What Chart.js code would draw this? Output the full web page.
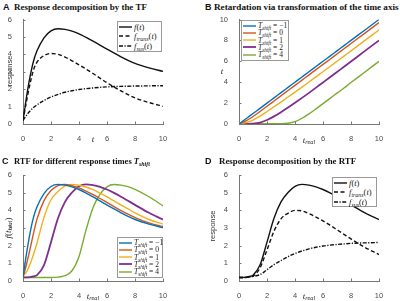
<!DOCTYPE html>
<html>
<head>
<meta charset="utf-8">
<script src="https://cdn.jsdelivr.net/npm/chart.js@4"></script>
<style>
body { margin: 0; width: 400px; height: 301px; position: relative; background: #fff; overflow: hidden; font-family: "Liberation Sans", sans-serif; }
canvas { position: absolute; }
.t { position: absolute; white-space: nowrap; line-height: 1; }
.ttl { font: bold 9.5px "Liberation Serif", serif; color: #111; }
.let { font: bold 9px "Liberation Sans", sans-serif; color: #111; }
.m { font-family: "Liberation Serif", serif; font-style: italic; color: #222; font-size: 9px; }
.ax { font-size: 7.5px; color: #333; }
.leg { position: absolute; background: #fff; border: 1px solid #999; box-sizing: border-box; }
.row { position: absolute; left: 1px; height: 8px; display: flex; align-items: center; font-family: "Liberation Serif", serif; font-style: italic; white-space: nowrap; color: #222; }
.row svg { margin-right: 2px; flex: none; }
.big .row { font-size: 8.5px; }
.small .row { font-size: 7.5px; }
sub { font-size: 70%; vertical-align: -0.3em; line-height: 0; }
.up { font-style: normal; }
</style>
</head>
<body>
<canvas id="cA"></canvas>
<canvas id="cB"></canvas>
<canvas id="cC"></canvas>
<canvas id="cD"></canvas>
<script>
// A: decomposition by the TF
var tA = [0, 0.25, 0.5, 0.75, 1, 1.5, 2, 2.5, 3, 3.5, 4, 5, 6, 7, 8, 9, 10];
var fA = [0.2, 1.55, 2.7, 3.6, 4.2, 4.95, 5.35, 5.47, 5.43, 5.33, 5.18, 4.76, 4.3, 3.86, 3.48, 3.22, 3.02];
var transA = [0.2, 1.3, 2.3, 3.1, 3.55, 3.93, 4.05, 4.0, 3.84, 3.63, 3.4, 2.9, 2.37, 1.9, 1.5, 1.23, 1.02];
var susA = [0.2, 0.5, 0.75, 0.95, 1.1, 1.35, 1.55, 1.7, 1.82, 1.91, 1.98, 2.07, 2.13, 2.16, 2.18, 2.19, 2.2];

// shared real-time grid for B, C, D
var tReal = [0, 0.25, 0.5, 0.75, 1, 1.5, 2, 2.5, 3, 3.5, 4, 4.5, 5, 5.5, 6, 6.5, 7, 7.5, 8, 9, 10];
var shifts = ['\u22121', '0', '1', '2', '4'];
var colors = ['#0072BD', '#D95319', '#EDB120', '#7E2F8E', '#77AC30'];

// B: t as a function of t_real
var tShiftM1 = [0, 0.25, 0.5, 0.75, 1, 1.5, 2, 2.5, 3, 3.5, 4, 4.5, 5, 5.5, 6, 6.5, 7, 7.5, 8, 9, 10];
var tShift0 = [0, 0.14, 0.3, 0.5, 0.72, 1.2, 1.7, 2.2, 2.7, 3.2, 3.7, 4.2, 4.7, 5.2, 5.7, 6.2, 6.7, 7.2, 7.7, 8.7, 9.7];
var tShift1 = [0.02, 0.06, 0.14, 0.24, 0.38, 0.75, 1.2, 1.65, 2.1, 2.58, 3.05, 3.53, 4.02, 4.51, 5.0, 5.5, 6.0, 6.5, 7.0, 8.0, 9.0];
var tShift2 = [0.01, 0.01, 0.01, 0.02, 0.03, 0.13, 0.38, 0.73, 1.13, 1.57, 2.03, 2.5, 2.98, 3.48, 3.98, 4.48, 4.98, 5.48, 5.98, 7.0, 8.0];
var tShift4 = [0.01, 0.01, 0.01, 0.01, 0.01, 0.02, 0.02, 0.03, 0.03, 0.07, 0.22, 0.55, 0.97, 1.45, 1.95, 2.45, 2.95, 3.45, 3.97, 4.98, 6.0];

// C: RTF for each shift
var rtfM1 = [0.2, 1.55, 2.7, 3.6, 4.2, 4.95, 5.35, 5.47, 5.43, 5.33, 5.18, 4.98, 4.76, 4.53, 4.3, 4.08, 3.86, 3.66, 3.48, 3.22, 3.02];
var rtf0 = [0.2, 0.95, 1.8, 2.7, 3.5, 4.55, 5.12, 5.4, 5.46, 5.39, 5.27, 5.09, 4.89, 4.67, 4.44, 4.21, 3.99, 3.78, 3.59, 3.29, 3.08];
var rtf1 = [0.3, 0.52, 0.95, 1.5, 2.15, 3.6, 4.6, 5.07, 5.38, 5.47, 5.42, 5.32, 5.17, 4.97, 4.76, 4.53, 4.3, 4.08, 3.86, 3.48, 3.22];
var rtf2 = [0.2, 0.2, 0.22, 0.26, 0.33, 0.9, 2.2, 3.55, 4.48, 5.01, 5.36, 5.47, 5.43, 5.33, 5.18, 4.99, 4.77, 4.54, 4.31, 3.86, 3.48];
var rtf4 = [0.2, 0.2, 0.2, 0.2, 0.2, 0.2, 0.2, 0.22, 0.3, 0.58, 1.39, 2.88, 4.15, 4.9, 5.33, 5.46, 5.43, 5.34, 5.19, 4.77, 4.25];

// D: decomposition by the RTF
var fD = rtf2;
var transD = [0.2, 0.2, 0.2, 0.22, 0.27, 0.74, 1.76, 2.82, 3.52, 3.83, 4.0, 3.97, 3.81, 3.62, 3.4, 3.16, 2.9, 2.64, 2.38, 1.9, 1.5];
var susD = [0.2, 0.2, 0.2, 0.24, 0.26, 0.36, 0.64, 0.93, 1.16, 1.38, 1.56, 1.7, 1.82, 1.91, 1.98, 2.03, 2.07, 2.1, 2.13, 2.16, 2.18];

var axisCol = '#777';
var DASH = [4, 2.5];
var DASHDOT = [4, 1.5, 1.2, 1.5];

function pts(xs, ys) {
    return xs.map(function (x, i) { return { x: x, y: ys[i] }; });
}

// MATLAB style inward tick marks
var inTicks = {
    id: 'inTicks',
    afterDraw: function (c) {
        var ctx = c.ctx, a = c.chartArea;
        ctx.save();
        ctx.strokeStyle = axisCol;
        ctx.lineWidth = 1;
        c.scales.x.ticks.forEach(function (t) {
            var px = Math.round(c.scales.x.getPixelForValue(t.value)) + 0.5;
            ctx.beginPath(); ctx.moveTo(px, a.bottom); ctx.lineTo(px, a.bottom - 2.5); ctx.stroke();
        });
        c.scales.y.ticks.forEach(function (t) {
            var py = Math.round(c.scales.y.getPixelForValue(t.value)) + 0.5;
            ctx.beginPath(); ctx.moveTo(a.left, py); ctx.lineTo(a.left + 2.5, py); ctx.stroke();
        });
        ctx.restore();
    }
};

function makeChart(id, box, area, yMax, yStep, sets) {
    var cv = document.getElementById(id);
    cv.width = box.w; cv.height = box.h;
    cv.style.left = box.x + 'px'; cv.style.top = box.y + 'px';
    var L = area.l - box.x, R = area.r - box.x, T = area.t - box.y, B = area.b - box.y;
    var tickFont = { family: 'Liberation Sans', size: 7.5 };
    return new Chart(cv, {
        type: 'line',
        data: { datasets: sets },
        options: {
            responsive: false,
            animation: false,
            layout: { padding: { left: 0, top: T, right: box.w - R, bottom: 0 } },
            plugins: { legend: { display: false }, tooltip: { enabled: false } },
            elements: {
                point: { radius: 0 },
                line: { borderWidth: 1.4, cubicInterpolationMode: 'monotone' }
            },
            scales: {
                x: {
                    type: 'linear', min: 0, max: 10,
                    ticks: { stepSize: 2, color: '#4a4a4a', font: tickFont, padding: 2, maxRotation: 0 },
                    grid: { display: false },
                    border: { display: true, color: axisCol, width: 1 },
                    afterFit: function (s) { s.height = box.h - B; }
                },
                y: {
                    type: 'linear', min: 0, max: yMax,
                    ticks: { stepSize: yStep, color: '#4a4a4a', font: tickFont, padding: 3 },
                    grid: { display: false },
                    border: { display: true, color: axisCol, width: 1 },
                    afterFit: function (s) { s.width = L; }
                }
            }
        },
        plugins: [inTicks]
    });
}

function decomp(xs, f, tr, su) {
    return [
        { data: pts(xs, f), borderColor: '#111' },
        { data: pts(xs, tr), borderColor: '#111', borderDash: DASH },
        { data: pts(xs, su), borderColor: '#111', borderDash: DASHDOT }
    ];
}

function shiftSets(series) {
    return series.map(function (s, i) {
        return { data: pts(tReal, s), borderColor: colors[i], borderWidth: i === 3 ? 1.8 : 1.4 };
    });
}

makeChart('cA', { x: 0, y: 12, w: 200, h: 138 }, { l: 23, r: 163, t: 19, b: 124 }, 6, 1,
    decomp(tA, fA, transA, susA));
makeChart('cB', { x: 200, y: 12, w: 200, h: 138 }, { l: 239, r: 379, t: 18, b: 124 }, 10, 2,
    shiftSets([tShiftM1, tShift0, tShift1, tShift2, tShift4]));
makeChart('cC', { x: 0, y: 163, w: 200, h: 138 }, { l: 23, r: 163, t: 175, b: 281 }, 6, 1,
    shiftSets([rtfM1, rtf0, rtf1, rtf2, rtf4]));
makeChart('cD', { x: 200, y: 163, w: 200, h: 138 }, { l: 239, r: 379, t: 175, b: 281 }, 6, 1,
    decomp(tReal, fD, transD, susD));

// text helpers
function lab(html, cx, cy, cls, rot) {
    var d = document.createElement('div');
    d.className = 't ' + cls;
    d.innerHTML = html;
    d.style.left = cx + 'px';
    d.style.top = cy + 'px';
    d.style.transform = 'translate(-50%,-50%)' + (rot ? ' rotate(-90deg)' : '');
    document.body.appendChild(d);
}
function txt(html, x, y, cls, fitW) {
    var d = document.createElement('div');
    d.className = 't ' + cls;
    d.innerHTML = html;
    d.style.left = x + 'px';
    d.style.top = y + 'px';
    document.body.appendChild(d);
    if (fitW) {
        // shrink the title font until it fits the width seen in the figure
        var size = 9.5;
        d.style.fontSize = size + 'px';
        var w = d.getBoundingClientRect().width;
        if (w > 0) d.style.fontSize = (size * fitW / w).toFixed(2) + 'px';
    }
}
function sample(color, dash, w) {
    return '<svg width="13" height="6"><line x1="0" y1="3" x2="13" y2="3" stroke="' + color +
        '" stroke-width="' + (w || 1.4) + '"' + (dash ? ' stroke-dasharray="' + dash.join(' ') + '"' : '') + '/></svg>';
}
function legend(x, y, w, h, step, size, rows) {
    var b = document.createElement('div');
    b.className = 'leg ' + size;
    b.style.left = x + 'px'; b.style.top = y + 'px';
    b.style.width = w + 'px'; b.style.height = h + 'px';
    rows.forEach(function (r, i) {
        var d = document.createElement('div');
        d.className = 'row';
        d.style.top = (0.5 + step * i) + 'px';
        d.innerHTML = sample(r.c, r.d, r.w) + '<span>' + r.html + '</span>';
        b.appendChild(d);
    });
    document.body.appendChild(b);
}

// panel titles
txt('A', 3, 2, 'let');  txt('Response decomposition by the TF', 14, 1.5, 'ttl', 133);
txt('B', 205, 2, 'let'); txt('Retardation via transformation of the time axis', 214, 1.5, 'ttl', 185);
txt('C', 2, 156, 'let'); txt('RTF for different response times <i>T<sub>shift</sub></i>', 14, 155.5, 'ttl', 136);
txt('D', 205, 156, 'let'); txt('Response decomposition by the RTF', 219, 155.5, 'ttl', 137);

// axis titles
lab('response', 10, 71, 'ax', true);
lab('t', 93, 139, 'm');
lab('t', 222, 71, 'm');
lab('t<sub>real</sub>', 309, 140, 'm');
lab('f<span class="up">(</span>t<sub>real</sub><span class="up">)</span>', 8, 228, 'm', true);
lab('t<sub>real</sub>', 93, 296, 'm');
lab('response', 213, 226, 'ax', true);
lab('t<sub>real</sub>', 309, 296, 'm');

// legends
var decRows = [
    { c: '#111', d: null, html: 'f<span class="up">(</span>t<span class="up">)</span>' },
    { c: '#111', d: DASH, html: 'f<sub>trans</sub><span class="up">(</span>t<span class="up">)</span>' },
    { c: '#111', d: DASHDOT, html: 'f<sub>sus</sub><span class="up">(</span>t<span class="up">)</span>' }
];
var shiftRows = shifts.map(function (s, i) {
    return { c: colors[i], d: null, w: i === 3 ? 1.8 : 1.4, html: 'T<sub>shift</sub><span class="up"> = ' + s + '</span>' };
});
legend(117, 21, 45, 31, 9.7, 'big', decRows);
legend(241, 20, 48, 41, 7.3, 'small', shiftRows);
legend(117, 237, 46, 41, 7.3, 'small', shiftRows);
legend(332, 177, 45, 30, 9.7, 'big', decRows);
</script>
</body>
</html>
